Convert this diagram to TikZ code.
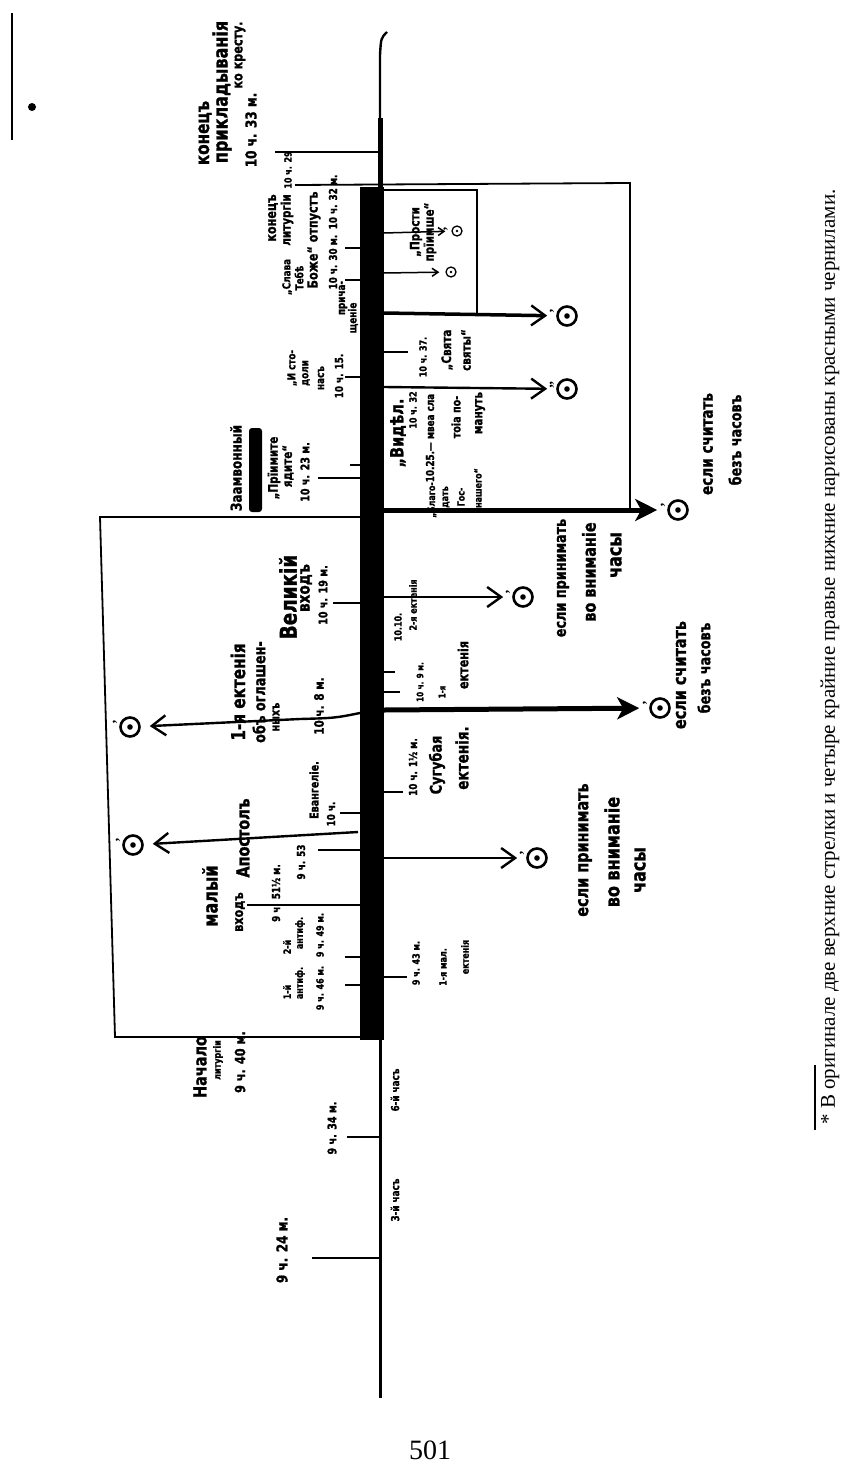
\documentclass[tikz,border=0pt]{standalone}
\usepackage{fontspec}
\usepackage{graphicx}
\setmainfont{Liberation Serif}
\newfontfamily\hand[FakeStretch=0.8,FakeBold=1.2]{DejaVu Sans}
\usetikzlibrary{arrows.meta}
\tikzset{
  hl/.style={rotate=90, inner sep=0pt, font=\hand\bfseries\fontsize{#1}{#1}\selectfont},
  hl/.default=12,
  tk/.style={line width=2.6pt},
  boxline/.style={line width=1.8pt},
  arr/.style={line width=2.4pt, -{Straight Barb[length=14pt,width=20pt,line width=2.4pt]}, shorten >=9pt},
  bigarr/.style={line width=5pt, -{Stealth[length=22pt,width=22pt,inset=6pt]}, shorten >=10pt},
  smallarr/.style={line width=1.5pt, -{Straight Barb[length=6pt,width=8pt,line width=1.5pt]}, shorten >=6pt},
  target/.style={circle, draw, line width=2.6pt, minimum size=19pt, inner sep=0pt,
    path picture={\fill (path picture bounding box.center) circle (2.8pt);}},
  smalltarget/.style={circle, draw, line width=1.3pt, minimum size=10pt, inner sep=0pt,
    path picture={\fill (path picture bounding box.center) circle (1.3pt);}},
  pr/.style={label={[rotate=90,inner sep=0pt,font=\bfseries\fontsize{14}{14}\selectfont]135:#1}},
}
\begin{document}
\begin{tikzpicture}[x=1pt,y=-1pt]
\useasboundingbox (0,0) rectangle (856,1483);

% ---- main axis ----
\draw[line width=2.4pt] (387,32) .. controls (381,38) .. (380,55) -- (380,152);
\draw[line width=5pt] (380,118) -- (380,190);
\fill (360,187) rectangle (384,1040);
\draw[line width=3pt] (380,1038) -- (380,1398);

% ---- left ticks ----
\draw[tk] (275,152) -- (380,152);
\foreach \xa/\ya in {345/248, 345/280, 345/377, 350/465, 318/478, 333/603, 340/813, 318/850, 247/905, 345/957, 345/985}
  \draw[tk] (\xa,\ya) -- (360,\ya);
\draw[tk] (347,1137) -- (380,1137);
\draw[tk] (312,1258) -- (380,1258);

% ---- right ticks ----
\foreach \ya/\xb in {352/408, 672/395, 692/400, 792/403, 977/407}
  \draw[tk] (384,\ya) -- (\xb,\ya);

% ---- boxes ----
\draw[boxline] (295,185) -- (630,183) -- (630,508);
\draw[boxline] (384,190) -- (477,190) -- (477,313);
\draw[boxline] (360,517) -- (100,517) -- (115,1037) -- (360,1037);

% ---- targets ----
\node[target, pr={'}] (t1) at (130,727) {};
\node[target, pr={'}] (t2) at (133,845) {};
\node[target, pr={'}] (t3) at (523,597) {};
\node[target, pr={'}] (t4) at (537,858) {};
\node[target, pr={'}] (t5) at (660,708) {};
\node[target, pr={''}] (t6) at (567,389) {};
\node[target, pr={'}] (t7) at (567,316) {};
\node[target, pr={'}] (t8) at (678,510) {};
\node[smalltarget, pr={'}] (t9) at (457,231) {};
\node[smalltarget] (t10) at (451,272) {};

% ---- arrows ----
\coordinate (s1) at (360,713);
\coordinate (s2) at (358,832);
\coordinate (s3) at (384,597);
\coordinate (s4) at (384,858);
\coordinate (s5) at (384,710);
\coordinate (s6) at (384,387);
\coordinate (s7) at (384,313);
\coordinate (s8) at (384,510);
\coordinate (s9) at (384,233);
\coordinate (s10) at (384,273);
\draw[arr] (s1) .. controls (335,718) .. (300,719) -- (t1);
\draw[arr] (s2) -- (t2);
\draw[arr] (s3) -- (t3);
\draw[arr] (s4) -- (t4);
\draw[bigarr] (s5) -- (t5);
\draw[arr] (s6) -- (t6);
\draw[arr, line width=3.5pt] (s7) -- (t7);
\draw[bigarr] (s8) -- (t8);
\draw[smallarr] (s9) -- (t9);
\draw[smallarr] (s10) -- (t10);

% ---- left labels ----
\node[hl=19] (n1) at (205,133) {конецъ};
\node[hl=20] (n2) at (222,92) {прикладыванія};
\node[hl=14] (n3) at (240,55) {ко кресту.};
\node[hl=15] (n4) at (251,130) {10 ч. 33 м.};
\node[hl=14] (n5) at (273,218) {конецъ};
\node[hl=13] (n6) at (287,220) {литургіи};
\node[hl=10] (n7) at (288,170) {10 ч. 29};
\node[hl=11] (n8) at (287,277) {„Слава};
\node[hl=11] (n9) at (299,278) {Тебѣ};
\node[hl=14] (n10) at (314,240) {Боже“ отпустъ};
\node[hl=11] (n11) at (333,232) {10 ч. 30 м.\enspace 10 ч. 32 м.};
\node[hl=11] (n12a) at (343,298) {прича-};
\node[hl=11] (n12b) at (353,318) {щеніе};
\node[hl=11] (n13a) at (292,368) {„И сто-};
\node[hl=11] (n13b) at (306,373) {доли};
\node[hl=11] (n13c) at (321,378) {насъ};
\node[hl=11] (n13d) at (339,376) {10 ч. 15.};
\node[hl=15] (n14) at (236,468) {Заамвонный};
\fill[rounded corners=3pt] (249,428) rectangle (262,512);
\node[hl=13] (n15) at (274,468) {„Прїимите};
\node[hl=13] (n16) at (288,466) {ядите“};
\node[hl=12] (n17) at (305,472) {10 ч. 23 м.};
\node[hl=23] (n18) at (288,597) {Великій};
\node[hl=17] (n19) at (306,588) {входъ};
\node[hl=12] (n20) at (323,595) {10 ч. 19 м.};
\node[hl=19] (n21) at (238,692) {1-я ектенія};
\node[hl=16] (n22) at (259,692) {объ оглашен-};
\node[hl=12] (n23) at (276,717) {ныхъ};
\node[hl=13] (n24) at (319,706) {10 ч. 8 м.};
\node[hl=12] (n25) at (314,790) {Евангеліе.};
\node[hl=11] (n26) at (331,814) {10 ч.};
\node[hl=18] (n27) at (243,838) {Апостолъ};
\node[hl=11] (n28) at (301,862) {9 ч. 53};
\node[hl=20] (n29) at (210,896) {малый};
\node[hl=14] (n30) at (240,912) {входъ};
\node[hl=11] (n31) at (276,893) {9 ч. 51½ м.};
\node[hl=10] (n32) at (287,947) {2-й};
\node[hl=10] (n33) at (300,933) {антиф.};
\node[hl=10] (n34) at (320,935) {9 ч. 49 м.};
\node[hl=10] (n35) at (287,992) {1-й};
\node[hl=10] (n36) at (300,983) {антиф.};
\node[hl=10] (n37) at (320,988) {9 ч. 46 м.};
\node[hl=18] (n38) at (200,1067) {Начало};
\node[hl=10] (n39) at (218,1060) {литургіи};
\node[hl=14] (n40) at (240,1062) {9 ч. 40 м.};
\node[hl=12] (n41) at (332,1128) {9 ч. 34 м.};
\node[hl=15] (n42) at (282,1250) {9 ч. 24 м.};
\node[hl=11] (n43) at (395,1090) {6-й часъ};
\node[hl=11] (n44) at (395,1200) {3-й часъ};

% ---- right labels ----
\node[hl=13] (n45) at (416,232) {„Прости};
\node[hl=13] (n46) at (430,232) {прїимше“};
\node[hl=10] (n47) at (423,357) {10 ч. 37.};
\node[hl=13] (n48) at (447,350) {„Свята};
\node[hl=13] (n49) at (466,350) {святы“};
\node[hl=18] (n50) at (398,433) {„Видѣл.};
\node[hl=10] (n51) at (413,410) {10 ч. 32};
\node[hl=11] (n52) at (430,438) {10.25.— мвеа сла};
\node[hl=12] (n53) at (456,417) {тоіа по-};
\node[hl=13] (n54) at (480,413) {мануть};
\node[hl=10] (n55) at (432,500) {„Благо-};
\node[hl=10] (n56) at (446,497) {дать};
\node[hl=10] (n57) at (461,497) {Гос-};
\node[hl=10] (n58) at (478,488) {нашего“};
\node[hl=10] (n59) at (398,627) {10.10.};
\node[hl=10] (n60) at (413,605) {2-я ектенія};
\node[hl=9] (n61) at (420,682) {10 ч. 9 м.};
\node[hl=9] (n62) at (442,692) {1-я};
\node[hl=14] (n63) at (463,665) {ектенія};
\node[hl=11] (n64) at (413,767) {10 ч. 1½ м.};
\node[hl=16] (n65) at (437,765) {Сугубая};
\node[hl=17] (n66) at (462,758) {ектенія.};
\node[hl=10] (n67) at (416,963) {9 ч. 43 м.};
\node[hl=10] (n68) at (443,967) {1-я мал.};
\node[hl=10] (n69) at (465,957) {ектенія};
\node[hl=18] (n70) at (585,850) {если принимать};
\node[hl=20] (n71) at (612,852) {во вниманіе};
\node[hl=20] (n72) at (640,870) {часы};
\node[hl=18] (n73) at (681,675) {если считать};
\node[hl=16] (n74) at (704,668) {безъ часовъ};
\node[hl=16] (n75) at (563,578) {если принимать};
\node[hl=18] (n76) at (589,572) {во вниманіе};
\node[hl=20] (n77) at (616,555) {часы};
\node[hl=17] (n78) at (708,444) {если считать};
\node[hl=16] (n79) at (735,440) {безъ часовъ};

% ---- page furniture ----
\draw[line width=1.5pt] (12,13) -- (12,140);
\fill (32,107) circle (4pt);
\draw[line width=2pt] (815,1065) -- (815,1130);
\node[rotate=90, inner sep=0pt, font=\fontsize{19}{19}\selectfont] (fn) at (830,657)
  {\resizebox{935pt}{!}{* В оригинале две верхние стрелки и четыре крайние правые нижние нарисованы красными чернилами.}};
\node[inner sep=0pt, font=\fontsize{28}{28}\selectfont] (pg) at (430,1450) {501};
\end{tikzpicture}
\end{document}
